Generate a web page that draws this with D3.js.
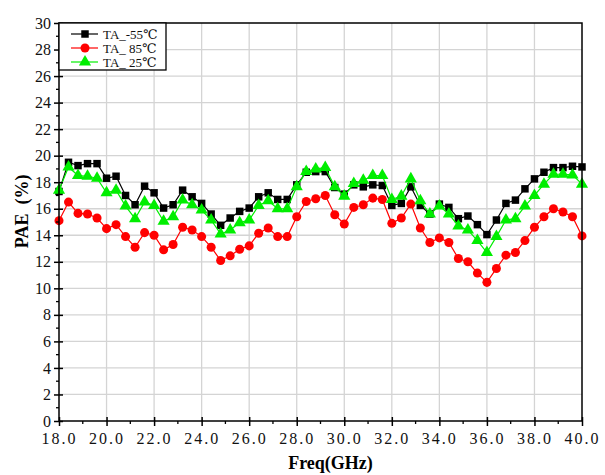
<!DOCTYPE html>
<html>
<head>
<meta charset="utf-8">
<script src="https://cdn.jsdelivr.net/npm/d3@7"></script>
<style>
  html, body { margin: 0; padding: 0; background: #fff; }
  svg { display: block; }
</style>
</head>
<body>
<svg id="chart" width="605" height="475"></svg>
<script>
// Frequency sweep, 18–40 GHz in 0.4 GHz steps
const freq = d3.range(56).map(i => +(18 + i * 0.4).toFixed(1));

// PAE (%) at three ambient temperatures
const paeM55 = [17.3, 19.5, 19.25, 19.4, 19.4, 18.3, 18.45, 17.0, 16.3, 17.7,
  17.2, 16.05, 16.3, 17.4, 16.9, 16.4, 15.6, 14.75, 15.3, 15.8,
  16.05, 16.9, 17.2, 16.7, 16.7, 17.8, 18.75, 18.8, 18.8, 17.6,
  17.1, 17.8, 17.65, 17.8, 17.75, 16.25, 16.4, 17.65, 16.25, 15.6,
  16.35, 16.1, 15.25, 15.45, 14.8, 14.05, 15.15, 16.4, 16.65, 17.5,
  18.25, 18.75, 19.1, 19.1, 19.2, 19.15];
const pae85 = [15.1, 16.5, 15.65, 15.6, 15.3, 14.5, 14.8, 13.9, 13.1, 14.2,
  14.0, 12.9, 13.3, 14.6, 14.4, 13.9, 13.1, 12.1, 12.45, 12.95,
  13.2, 14.15, 14.55, 13.9, 13.9, 15.4, 16.55, 16.75, 17.0, 15.55,
  14.85, 16.1, 16.3, 16.8, 16.7, 14.9, 15.3, 16.35, 14.55, 13.45,
  13.8, 13.45, 12.25, 12.0, 11.15, 10.45, 11.5, 12.5, 12.7, 13.6,
  14.6, 15.4, 16.0, 15.75, 15.4, 13.95];
const pae25 = [17.4, 19.15, 18.5, 18.45, 18.3, 17.2, 17.4, 16.2, 15.25, 16.5,
  16.25, 15.05, 15.4, 16.65, 16.3, 15.9, 15.15, 14.1, 14.4, 14.95,
  15.15, 16.25, 16.6, 16.0, 16.0, 17.65, 18.8, 19.0, 19.1, 17.65,
  16.95, 17.9, 18.15, 18.5, 18.5, 16.7, 16.95, 18.25, 16.6, 15.6,
  16.2, 15.6, 14.7, 14.4, 13.6, 12.7, 13.9, 15.15, 15.25, 16.2,
  17.0, 17.85, 18.6, 18.6, 18.55, 17.85];

const xTicks = d3.range(18, 40.01, 2);
const yTicks = d3.range(0, 30.01, 2);

const seriesNames = ["TA_-55℃", "TA_ 85℃", "TA_ 25℃"];
const seriesValues = [paeM55, pae85, pae25];
const seriesColors = ["#000000", "#ff0000", "#00ee00"];
const seriesMarkers = [d3.symbolSquare, d3.symbolCircle, d3.symbolTriangle];
const markerSizes = [56, 64, 64];

const svg = d3.select("#chart");
const margin = { left: 59, right: 23, top: 23, bottom: 54 };
const W = 605, H = 475;

const x = d3.scaleLinear().domain([18, 40]).range([margin.left, W - margin.right]);
const y = d3.scaleLinear().domain([0, 30]).range([H - margin.bottom, margin.top]);

// grid
const grid = svg.append("g").attr("stroke", "#d4d4d4").attr("stroke-width", 1.3);
grid.selectAll(".gx").data(xTicks.slice(1, -1)).join("line")
  .attr("x1", d => x(d)).attr("x2", d => x(d))
  .attr("y1", y(0)).attr("y2", y(30));
grid.selectAll(".gy").data(yTicks.slice(1, -1)).join("line")
  .attr("x1", x(18)).attr("x2", x(40))
  .attr("y1", d => y(d)).attr("y2", d => y(d));

// series (black first, then red, green on top)
[0, 1, 2].forEach(k => {
  const pts = freq.map((f, i) => [f, seriesValues[k][i]]);
  const g = svg.append("g");
  g.append("path")
    .datum(pts)
    .attr("fill", "none")
    .attr("stroke", seriesColors[k])
    .attr("stroke-width", 1.2)
    .attr("d", d3.line().x(d => x(d[0])).y(d => y(d[1])));
  g.selectAll("path.m").data(pts).join("path")
    .attr("class", "m")
    .attr("transform", d => `translate(${x(d[0])},${y(d[1])})`)
    .attr("d", d3.symbol().type(seriesMarkers[k]).size(markerSizes[k]))
    .attr("fill", seriesColors[k]);
});

// frame
svg.append("rect")
  .attr("x", x(18)).attr("y", y(30))
  .attr("width", x(40) - x(18)).attr("height", y(0) - y(30))
  .attr("fill", "none").attr("stroke", "#000").attr("stroke-width", 1.5);

// x axis
const xAxis = d3.axisBottom(x).tickValues(xTicks).tickSize(5).tickPadding(7)
  .tickFormat(d3.format(".1f"));
const gx = svg.append("g").attr("transform", `translate(0,${y(0)})`).call(xAxis);
gx.select(".domain").remove();
gx.selectAll(".tick line").attr("y1", -4).attr("stroke-width", 1.5);
gx.selectAll("text")
  .attr("font-family", "'Liberation Serif', 'DejaVu Serif', serif")
  .attr("font-size", 16).attr("letter-spacing", 2).attr("fill", "#111");
svg.append("g").selectAll("line").data(d3.range(19, 40, 2)).join("line")
  .attr("x1", d => x(d)).attr("x2", d => x(d))
  .attr("y1", y(0)).attr("y2", y(0) + 3)
  .attr("stroke", "#000").attr("stroke-width", 1.3);

// y axis
const yAxis = d3.axisLeft(y).tickValues(yTicks).tickSize(5).tickPadding(3);
const gy = svg.append("g").attr("transform", `translate(${x(18)},0)`).call(yAxis);
gy.select(".domain").remove();
gy.selectAll(".tick line").attr("x1", 4).attr("stroke-width", 1.5);
gy.selectAll("text")
  .attr("font-family", "'Liberation Serif', 'DejaVu Serif', serif")
  .attr("font-size", 16).attr("fill", "#111");
svg.append("g").selectAll("line").data(d3.range(1, 30, 2)).join("line")
  .attr("x1", x(18) - 3).attr("x2", x(18))
  .attr("y1", d => y(d)).attr("y2", d => y(d))
  .attr("stroke", "#000").attr("stroke-width", 1.3);

// axis titles
svg.append("text")
  .attr("x", (x(18) + x(40)) / 2 + 10).attr("y", 469)
  .attr("text-anchor", "middle")
  .attr("font-family", "'Liberation Serif', 'DejaVu Serif', serif")
  .attr("font-weight", "bold").attr("font-size", 18)
  .text("Freq(GHz)");
svg.append("text")
  .attr("transform", `translate(28,${y(15.8)}) rotate(-90)`)
  .attr("text-anchor", "middle")
  .attr("font-family", "'Liberation Serif', 'DejaVu Serif', serif")
  .attr("font-weight", "bold").attr("font-size", 18)
  .attr("xml:space", "preserve")
  .text("PAE  (%)");

// legend
const lg = svg.append("g");
lg.append("rect")
  .attr("x", x(18)).attr("y", y(30))
  .attr("width", 107).attr("height", 47)
  .attr("fill", "#fff").attr("stroke", "#000").attr("stroke-width", 1.3);
seriesNames.forEach((name, k) => {
  const cy = y(30) + 11 + k * 14;
  lg.append("line")
    .attr("x1", x(18) + 12).attr("x2", x(18) + 39)
    .attr("y1", cy).attr("y2", cy)
    .attr("stroke", seriesColors[k]).attr("stroke-width", 1.2);
  lg.append("path")
    .attr("transform", `translate(${x(18) + 26},${cy})`)
    .attr("d", d3.symbol().type(seriesMarkers[k]).size(markerSizes[k]))
    .attr("fill", seriesColors[k]);
  lg.append("text")
    .attr("x", x(18) + 44).attr("y", cy + 4.5)
    .attr("font-family", "'Liberation Serif', 'DejaVu Serif', serif")
    .attr("font-size", 13)
    .attr("xml:space", "preserve")
    .attr("fill", "#111")
    .text(name);
});
</script>
</body>
</html>
